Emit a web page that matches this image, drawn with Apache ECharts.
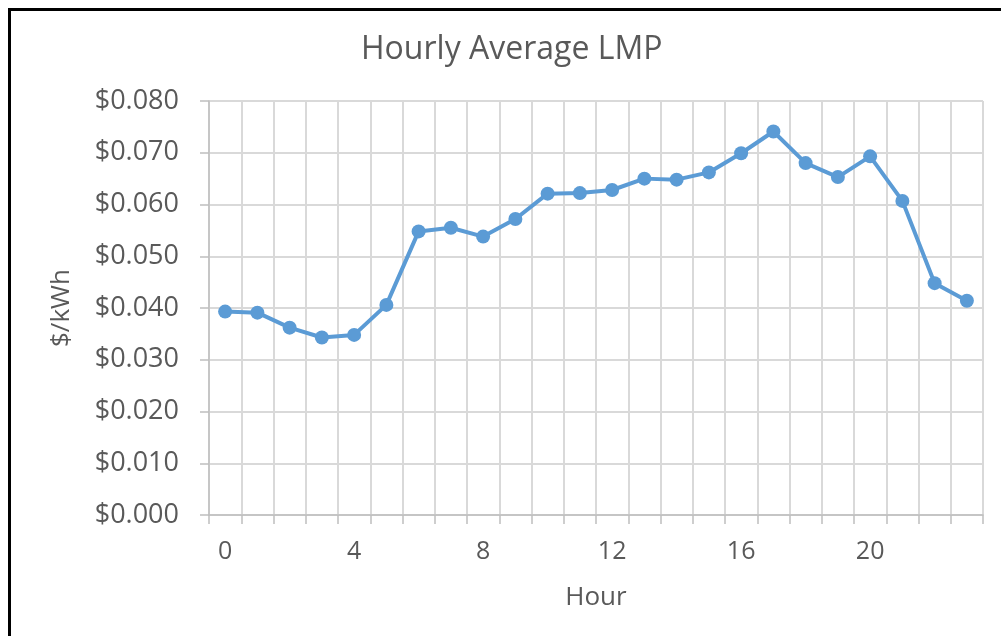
<!DOCTYPE html>
<html>
<head>
<meta charset="utf-8">
<title>Hourly Average LMP</title>
<script src="https://cdn.jsdelivr.net/npm/echarts@6/dist/echarts.min.js"></script>
<style>
html,body{margin:0;padding:0;background:#fff;}
#main{width:1001px;height:636px;}
</style>
</head>
<body>
<div id="main"></div>
<script>
// 小时（x轴类别）
var hours=['0','1','2','3','4','5','6','7','8','9','10','11','12','13','14','15','16','17','18','19','20','21','22','23'];
// 每小时平均LMP（$/kWh）
var lmp=[0.0393,0.0391,0.0362,0.0343,0.0348,0.0406,0.0548,0.0555,0.0538,0.0572,0.0621,0.0622,0.0628,0.0650,0.0648,0.0662,0.0699,0.0741,0.0680,0.0653,0.0693,0.0607,0.0448,0.0414];

var textColor='#595959';
var gridColor='#d9d9d9';
var fontName='Open Sans';

var myChart=echarts.init(document.getElementById('main'));

var option={
    animation:false,
    title:{
        text:'Hourly Average LMP',
        left:356,
        top:29,
        textStyle:{color:textColor,fontFamily:fontName,fontSize:32,fontWeight:'normal'}
    },
    grid:{left:209,right:18,top:101,bottom:121,containLabel:false},
    xAxis:{
        type:'category',
        data:hours,
        boundaryGap:true,
        name:'Hour',
        nameLocation:'middle',
        nameGap:70,
        nameTextStyle:{color:textColor,fontFamily:fontName,fontSize:26},
        axisLine:{lineStyle:{color:'#bfbfbf',width:1.5}},
        axisTick:{show:true,interval:0,length:9,lineStyle:{color:'#bfbfbf',width:1.5}},
        axisLabel:{interval:3,margin:24,color:textColor,fontFamily:fontName,fontSize:25},
        splitLine:{show:true,interval:0,lineStyle:{color:gridColor,width:2}}
    },
    yAxis:{
        type:'value',
        min:0,
        max:0.08,
        interval:0.01,
        name:'$/kWh',
        nameLocation:'middle',
        nameGap:134,
        nameTextStyle:{color:textColor,fontFamily:fontName,fontSize:26},
        axisLine:{show:true,lineStyle:{color:'#bfbfbf',width:1.5}},
        axisTick:{show:true,length:9,lineStyle:{color:'#bfbfbf',width:1.5}},
        axisLabel:{
            margin:30,
            color:textColor,fontFamily:fontName,fontSize:27,
            formatter:function(v){return '$'+v.toFixed(3);}
        },
        splitLine:{show:true,lineStyle:{color:gridColor,width:2}}
    },
    series:[{
        name:'LMP',
        type:'line',
        data:lmp,
        symbol:'circle',
        symbolSize:14,
        lineStyle:{color:'#5b9bd5',width:4},
        itemStyle:{color:'#5b9bd5'}
    }],
    graphic:[{
        type:'polyline',
        shape:{points:[[9.5,700],[9.5,9.5],[1010,9.5]]},
        style:{stroke:'#000',lineWidth:3,fill:null}
    }]
};

myChart.setOption(option);
</script>
</body>
</html>
